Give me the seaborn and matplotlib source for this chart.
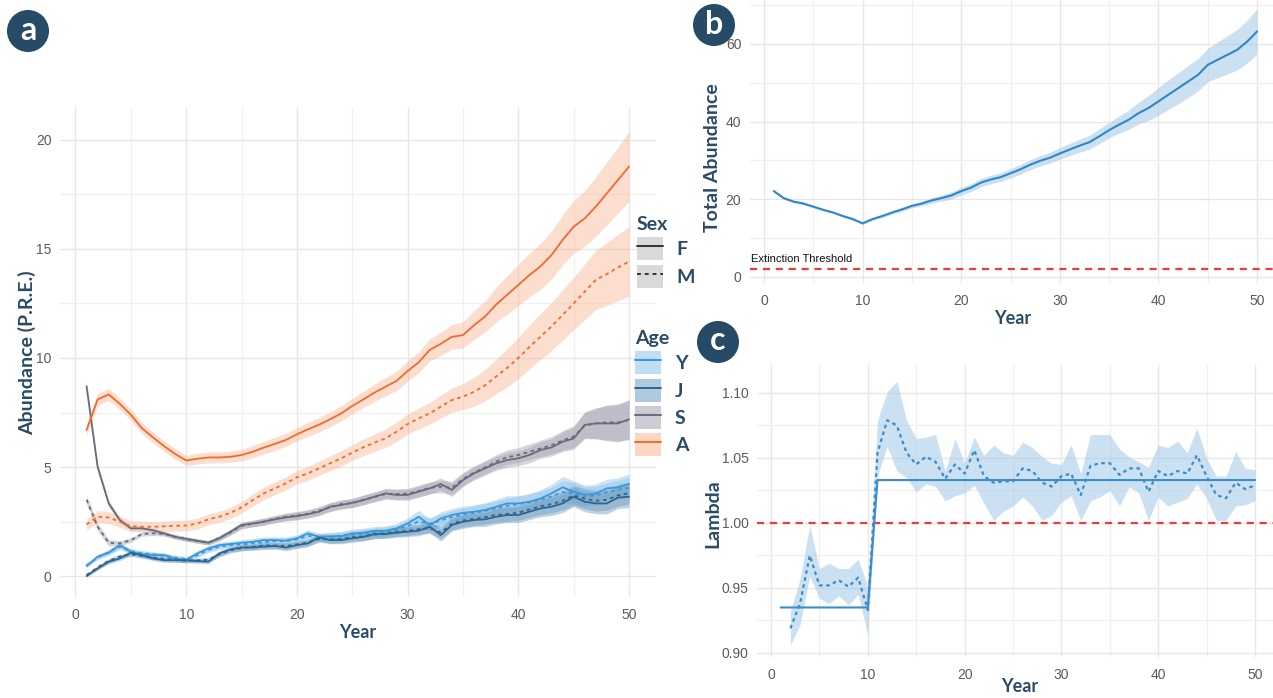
import matplotlib
matplotlib.use("Agg")
import numpy as np
import pandas as pd
import seaborn as sns
import matplotlib.pyplot as plt
from matplotlib.patches import Circle, Patch
from matplotlib.lines import Line2D
from matplotlib.ticker import MultipleLocator

# ---------------- data ----------------
YEARS = list(range(1, 51))
AGES = ["Y", "J", "S", "A"]
SEXES = ["F", "M"]

A_F = [6.7, 8.1, 8.33, 7.9, 7.4, 6.78, 6.36, 5.96, 5.6, 5.3, 5.38, 5.44, 5.44, 5.47, 5.55,
       5.7, 5.89, 6.06, 6.24, 6.5, 6.73, 6.94, 7.19, 7.46, 7.8, 8.1, 8.41, 8.68, 8.95, 9.4,
       9.8, 10.37, 10.65, 10.97, 11.05, 11.5, 11.9, 12.45, 12.9, 13.35, 13.8, 14.2, 14.72,
       15.41, 16.02, 16.4, 16.94, 17.55, 18.16, 18.78]
A_M = [2.37, 2.72, 2.69, 2.49, 2.29, 2.26, 2.26, 2.28, 2.31, 2.32, 2.41, 2.6, 2.72, 2.9, 3.15,
       3.48, 3.79, 4.02, 4.25, 4.53, 4.71, 4.94, 5.17, 5.4, 5.66, 5.9, 6.12, 6.31, 6.62, 6.97,
       7.23, 7.46, 7.77, 8.07, 8.23, 8.45, 8.75, 9.15, 9.55, 10.0, 10.5, 10.98, 11.45, 11.97,
       12.5, 13.04, 13.58, 13.85, 14.15, 14.42]
S_F = [8.7, 5.0, 3.33, 2.57, 2.19, 2.19, 2.1, 1.96, 1.8, 1.7, 1.62, 1.53, 1.73, 2.03, 2.34,
       2.41, 2.49, 2.6, 2.69, 2.75, 2.84, 2.95, 3.18, 3.26, 3.36, 3.48, 3.64, 3.79, 3.72, 3.72,
       3.87, 4.02, 4.22, 3.95, 4.4, 4.71, 4.94, 5.17, 5.32, 5.4, 5.55, 5.78, 5.9, 6.16, 6.31,
       6.93, 7.0, 7.0, 7.0, 7.19]
S_M = [3.5, 2.26, 1.53, 1.5, 1.65, 1.93, 1.96, 1.93, 1.8, 1.7, 1.6, 1.53, 1.75, 2.0, 2.3,
       2.4, 2.5, 2.62, 2.72, 2.78, 2.86, 3.0, 3.15, 3.3, 3.34, 3.5, 3.62, 3.76, 3.76, 3.78,
       3.9, 4.05, 4.1, 4.05, 4.45, 4.75, 4.98, 5.25, 5.45, 5.55, 5.7, 5.85, 6.0, 6.22, 6.4,
       6.9, 7.0, 7.05, 7.05, 7.15]
Y_F = [0.46, 0.89, 1.07, 1.42, 1.11, 1.0, 0.96, 0.96, 0.8, 0.73, 1.04, 1.27, 1.42, 1.47, 1.53,
       1.57, 1.65, 1.65, 1.62, 1.73, 1.96, 1.8, 1.83, 1.83, 1.96, 1.99, 2.08, 2.08, 2.19, 2.41,
       2.72, 2.34, 2.64, 2.8, 2.9, 2.95, 3.03, 3.18, 3.33, 3.33, 3.41, 3.56, 3.79, 4.07, 3.87,
       3.72, 3.79, 4.02, 4.07, 4.22]
Y_M = [0.5, 0.85, 1.1, 1.35, 1.15, 1.05, 1.0, 0.92, 0.85, 0.78, 0.95, 1.2, 1.35, 1.42, 1.45,
       1.5, 1.55, 1.6, 1.6, 1.68, 1.85, 1.78, 1.8, 1.86, 1.9, 1.95, 2.0, 2.05, 2.12, 2.3,
       2.5, 2.4, 2.55, 2.7, 2.82, 2.9, 3.0, 3.1, 3.22, 3.3, 3.38, 3.5, 3.65, 3.85, 3.8,
       3.65, 3.7, 3.85, 3.95, 4.05]
J_F = [0.0, 0.35, 0.66, 0.81, 1.07, 0.96, 0.81, 0.73, 0.73, 0.73, 0.69, 0.66, 1.04, 1.22, 1.31,
       1.31, 1.35, 1.38, 1.31, 1.42, 1.5, 1.77, 1.65, 1.65, 1.73, 1.8, 1.93, 1.93, 1.99, 2.03,
       2.08, 2.26, 1.88, 2.34, 2.49, 2.57, 2.6, 2.72, 2.8, 2.8, 2.95, 3.1, 3.18, 3.33, 3.64,
       3.41, 3.33, 3.33, 3.6, 3.64]
J_M = [0.05, 0.4, 0.7, 0.9, 1.0, 0.92, 0.85, 0.78, 0.75, 0.7, 0.72, 0.75, 1.0, 1.18, 1.28,
       1.34, 1.4, 1.4, 1.38, 1.45, 1.55, 1.7, 1.68, 1.7, 1.78, 1.82, 1.9, 1.95, 2.02, 2.08,
       2.15, 2.2, 2.0, 2.4, 2.55, 2.62, 2.7, 2.8, 2.85, 2.9, 3.05, 3.2, 3.3, 3.45, 3.7,
       3.55, 3.45, 3.5, 3.7, 3.8]

# ribbon half-widths per age class
A_HW = [0.25, 0.28, 0.28, 0.26, 0.25, 0.25, 0.24, 0.24, 0.24, 0.24, 0.25, 0.25, 0.25, 0.26, 0.27,
        0.28, 0.29, 0.3, 0.3, 0.31, 0.32, 0.33, 0.34, 0.35, 0.36, 0.38, 0.4, 0.42, 0.44, 0.46,
        0.48, 0.5, 0.53, 0.56, 0.6, 0.66, 0.72, 0.8, 0.88, 0.95, 1.0, 1.05, 1.1, 1.15, 1.2,
        1.28, 1.36, 1.44, 1.52, 1.6]
S_HW = [0.2, 0.18, 0.15, 0.12, 0.1, 0.1, 0.1, 0.1, 0.1, 0.1, 0.1, 0.1, 0.12, 0.13, 0.14,
        0.15, 0.16, 0.16, 0.17, 0.18, 0.18, 0.19, 0.2, 0.2, 0.21, 0.22, 0.22, 0.23, 0.24, 0.25,
        0.26, 0.27, 0.28, 0.3, 0.3, 0.3, 0.31, 0.32, 0.33, 0.34, 0.36, 0.38, 0.4, 0.45, 0.5,
        0.6, 0.7, 0.8, 0.85, 0.9]
Y_HW = [0.08, 0.1, 0.12, 0.14, 0.12, 0.12, 0.12, 0.12, 0.12, 0.12, 0.12, 0.13, 0.14, 0.14, 0.14,
        0.15, 0.15, 0.15, 0.16, 0.16, 0.17, 0.17, 0.18, 0.18, 0.19, 0.2, 0.2, 0.21, 0.22, 0.25,
        0.3, 0.28, 0.3, 0.3, 0.3, 0.32, 0.33, 0.34, 0.35, 0.36, 0.38, 0.4, 0.42, 0.5, 0.5,
        0.45, 0.42, 0.42, 0.44, 0.45]
J_HW = [0.05, 0.08, 0.1, 0.1, 0.1, 0.1, 0.1, 0.1, 0.1, 0.1, 0.1, 0.1, 0.12, 0.12, 0.13,
        0.13, 0.14, 0.14, 0.15, 0.15, 0.16, 0.16, 0.17, 0.17, 0.18, 0.19, 0.2, 0.2, 0.21, 0.22,
        0.23, 0.25, 0.28, 0.28, 0.3, 0.3, 0.32, 0.33, 0.34, 0.35, 0.36, 0.38, 0.4, 0.42, 0.45,
        0.46, 0.47, 0.48, 0.5, 0.5]

# panel b: total abundance
TOTAL = [22.1, 20.3, 19.4, 18.9, 18.1, 17.3, 16.6, 15.7, 14.9, 13.8, 14.9, 15.7, 16.6, 17.4, 18.3,
         18.9, 19.7, 20.3, 21.0, 22.1, 23.0, 24.3, 25.1, 25.7, 26.7, 27.7, 28.9, 29.9, 30.7, 31.8,
         32.8, 33.8, 34.7, 36.2, 37.8, 39.2, 40.5, 42.2, 43.5, 45.2, 46.9, 48.6, 50.3, 52.0, 54.6,
         55.9, 57.2, 58.5, 60.6, 63.2]
TOTAL_HW = [0.3, 0.3, 0.3, 0.3, 0.3, 0.3, 0.3, 0.3, 0.3, 0.3, 0.35, 0.4, 0.45, 0.5, 0.55,
            0.6, 0.7, 0.8, 0.9, 1.0, 1.0, 1.05, 1.1, 1.15, 1.2, 1.25, 1.3, 1.35, 1.4, 1.5,
            1.6, 1.7, 1.8, 1.9, 2.0, 2.2, 2.5, 2.8, 3.2, 3.6, 3.8, 4.0, 4.1, 4.2, 4.3,
            4.6, 4.9, 5.2, 5.5, 5.8]
EXTINCTION = 2

# panel c: lambda (years 2..50)
LAM_YEARS = list(range(2, 51))
LAM = [0.919, 0.938, 0.975, 0.952, 0.952, 0.956, 0.951, 0.958, 0.933,
       1.054, 1.079, 1.075, 1.054, 1.045, 1.051, 1.047, 1.034, 1.045, 1.038,
       1.056, 1.036, 1.031, 1.032, 1.032, 1.042, 1.040, 1.031, 1.028, 1.036,
       1.038, 1.0215, 1.044, 1.046, 1.046, 1.037, 1.042, 1.042, 1.024, 1.040,
       1.036, 1.040, 1.038, 1.052, 1.036, 1.0215, 1.019, 1.031, 1.026, 1.029]
LAM_HI = [0.932, 0.957, 0.998, 0.965, 0.969, 0.965, 0.965, 0.972, 0.951,
          1.079, 1.101, 1.109, 1.079, 1.065, 1.066, 1.068, 1.040, 1.065, 1.046,
          1.066, 1.052, 1.060, 1.054, 1.052, 1.062, 1.058, 1.051, 1.046, 1.045,
          1.060, 1.038, 1.068, 1.068, 1.068, 1.057, 1.051, 1.047, 1.043, 1.060,
          1.058, 1.063, 1.054, 1.073, 1.050, 1.036, 1.036, 1.055, 1.042, 1.041]
LAM_LO = [0.906, 0.922, 0.959, 0.942, 0.938, 0.944, 0.937, 0.945, 0.914,
          1.036, 1.059, 1.040, 1.035, 1.024, 1.030, 1.028, 1.017, 1.021, 1.023,
          1.029, 1.015, 1.002, 1.009, 1.013, 1.020, 1.013, 1.002, 1.006, 1.016,
          1.021, 1.002, 1.017, 1.020, 1.025, 1.013, 1.028, 1.023, 1.002, 1.020,
          1.013, 1.016, 1.019, 1.030, 1.019, 1.002, 1.002, 1.013, 1.014, 1.017]
PERIOD_LAMBDA = [0.935, 1.033]      # mean lambda, years 1-10 and 11-50
PERIOD_BREAK = 10

# ---------------- style ----------------
NAVY = "#2a4b66"
TICK = "#5a5a5a"
LINE_C = {"Y": "#3a98d8", "J": "#2b6591", "S": "#6a6a7c", "A": "#f26a2e"}
RIB_C = {"Y": "#8cc3ea", "J": "#6e9cc0", "S": "#a3a3b3", "A": "#f9b795"}
RIB_A = {"Y": 0.45, "J": 0.45, "S": 0.45, "A": 0.45}

sns.set_theme(style="whitegrid")
plt.rcParams["font.family"] = ["Lato", "DejaVu Sans"]

W, H = 1273, 698
fig = plt.figure(figsize=(W / 100, H / 100), dpi=100)
fig.patch.set_facecolor("white")


def frac(l, t, r, b):
    return [l / W, 1 - b / H, (r - l) / W, (b - t) / H]


def style_axes(ax, xmaj, ymaj, ymin_loc):
    ax.set_facecolor("white")
    for s in ax.spines.values():
        s.set_visible(False)
    ax.xaxis.set_major_locator(MultipleLocator(xmaj))
    ax.xaxis.set_minor_locator(MultipleLocator(xmaj / 2))
    ax.yaxis.set_major_locator(MultipleLocator(ymaj))
    ax.yaxis.set_minor_locator(MultipleLocator(ymin_loc))
    ax.grid(which="major", color="#e6e6e6", lw=1.0)
    ax.grid(which="minor", color="#f0f0f0", lw=0.9)
    ax.tick_params(which="both", length=0, labelsize=10, labelcolor=TICK)
    ax.tick_params(axis="x", pad=8)
    ax.tick_params(axis="y", pad=6)
    ax.set_xlabel("")
    ax.set_ylabel("")


def tick_font(ax):
    for lab in ax.get_xticklabels() + ax.get_yticklabels():
        lab.set_fontfamily("Liberation Sans")


# ---------------- panel a ----------------
series = {("Y", "F"): Y_F, ("Y", "M"): Y_M, ("J", "F"): J_F, ("J", "M"): J_M,
          ("S", "F"): S_F, ("S", "M"): S_M, ("A", "F"): A_F, ("A", "M"): A_M}
halfw = {"Y": Y_HW, "J": J_HW, "S": S_HW, "A": A_HW}
rows = []
for (age, sex), vals in series.items():
    for yr, v in zip(YEARS, vals):
        rows.append({"Year": yr, "Abundance": v, "Age": age, "Sex": sex})
df = pd.DataFrame(rows)

axA = fig.add_axes(frac(60, 107, 656, 597))
for (age, sex), vals in series.items():
    m = np.array(vals)
    hw = np.array(halfw[age])
    axA.fill_between(YEARS, m - hw, m + hw, color=RIB_C[age], alpha=RIB_A[age], lw=0, zorder=1)
sns.lineplot(data=df, x="Year", y="Abundance", hue="Age", style="Sex",
             hue_order=AGES, style_order=SEXES, palette=LINE_C,
             dashes={"F": "", "M": (2, 2)}, lw=1.3, legend=False, errorbar=None,
             ax=axA, zorder=3)
axA.set_xlim(-1.4, 52.44)
axA.set_ylim(-0.96, 21.51)
style_axes(axA, 10, 5, 2.5)
axA.set_xticks([0, 10, 20, 30, 40, 50])
axA.set_yticks([0, 5, 10, 15, 20])
tick_font(axA)

# legends
leg_kw = dict(loc="upper left", frameon=False, handlelength=1.35, handleheight=1.45,
              handletextpad=0.7, labelspacing=0.22, borderpad=0, borderaxespad=0,
              prop=dict(weight="bold", size=14), alignment="left",
              title_fontproperties=dict(weight="bold", size=14), labelcolor=NAVY)
sex_handles = [(Patch(facecolor="#d9d9d9", edgecolor="none"),
                Line2D([], [], color="#333333", lw=1.4, ls="-")),
               (Patch(facecolor="#d9d9d9", edgecolor="none"),
                Line2D([], [], color="#333333", lw=1.4, dashes=(2, 2)))]
leg1 = fig.legend(sex_handles, SEXES, title="Sex", bbox_to_anchor=(637 / W, 1 - 216 / H), **leg_kw)
leg1.get_title().set_color(NAVY)
age_handles = [(Patch(facecolor=RIB_C[a], alpha=0.55, edgecolor="none"),
                Line2D([], [], color=LINE_C[a], lw=1.4)) for a in AGES]
leg2 = fig.legend(age_handles, AGES, title="Age", bbox_to_anchor=(635 / W, 1 - 330 / H), **leg_kw)
leg2.get_title().set_color(NAVY)

fig.text(27 / W, 1 - 353 / H, "Abundance (P.R.E.)", rotation=90, ha="center", va="center",
         fontsize=14, fontweight="bold", color=NAVY)
fig.text(358 / W, 1 - 632 / H, "Year", ha="center", va="center",
         fontsize=13, fontweight="bold", color=NAVY)

# ---------------- panel b ----------------
axB = fig.add_axes(frac(749.7, 0, 1281.2, 283))
tot = np.array(TOTAL)
thw = np.array(TOTAL_HW)
axB.fill_between(YEARS, tot - thw, tot + thw, color="#a9cde9", alpha=0.6, lw=0, zorder=1)
sns.lineplot(x=YEARS, y=TOTAL, color="#2f86c8", lw=1.5, ax=axB, zorder=3)
axB.axhline(EXTINCTION, color="#f03a3a", lw=1.6, dashes=(3.2, 2.6), zorder=2)
axB.set_xlim(-1.45, 52.45)
axB.set_ylim(-1.55, 71.3)
style_axes(axB, 10, 20, 10)
axB.set_xticks([0, 10, 20, 30, 40, 50])
axB.set_yticks([0, 20, 40, 60])
tick_font(axB)
axB.text(-1.3, EXTINCTION + 1.3, "Extinction Threshold", fontsize=8, color="#111111",
         family="Liberation Sans", ha="left", va="bottom")
fig.text(712 / W, 1 - 158 / H, "Total Abundance", rotation=90, ha="center", va="center",
         fontsize=14, fontweight="bold", color=NAVY)
fig.text(1013 / W, 1 - 318 / H, "Year", ha="center", va="center",
         fontsize=13, fontweight="bold", color=NAVY)

# ---------------- panel c ----------------
axC = fig.add_axes(frac(757, 365, 1278.7, 657))
axC.fill_between(LAM_YEARS, LAM_LO, LAM_HI, color="#a9cde9", alpha=0.6, lw=0, zorder=1)
step_vals = [PERIOD_LAMBDA[0] if y <= PERIOD_BREAK else PERIOD_LAMBDA[1] for y in YEARS]
sns.lineplot(x=YEARS, y=step_vals, color="#3a8ccc", lw=1.5, ax=axC, zorder=3)
sns.lineplot(x=LAM_YEARS, y=LAM, color="#3a8ccc", lw=1.6, ax=axC, zorder=4,
             linestyle=(0, (1.6, 1.6)))
axC.axhline(1.0, color="#f03a3a", lw=1.6, dashes=(3.2, 2.6), zorder=2)
axC.set_xlim(-1.45, 52.45)
axC.set_ylim(0.8969, 1.1215)
style_axes(axC, 10, 0.05, 0.025)
axC.set_xticks([0, 10, 20, 30, 40, 50])
axC.set_yticks([0.90, 0.95, 1.00, 1.05, 1.10])
axC.set_yticklabels(["0.90", "0.95", "1.00", "1.05", "1.10"])
tick_font(axC)
fig.text(713 / W, 1 - 514 / H, "Lambda", rotation=90, ha="center", va="center",
         fontsize=14, fontweight="bold", color=NAVY)
fig.text(1020 / W, 1 - 686 / H, "Year", ha="center", va="center",
         fontsize=13, fontweight="bold", color=NAVY)

# ---------------- panel letters ----------------
ov = fig.add_axes([0, 0, 1, 1], zorder=10)
ov.set_xlim(0, W)
ov.set_ylim(H, 0)
ov.axis("off")
ov.patch.set_alpha(0)
for lx, ly, letter in [(28, 31, "a"), (714, 25, "b"), (718, 342, "c")]:
    ov.add_patch(Circle((lx, ly), 21, color="#274a66", lw=0))
    ov.text(lx, ly - 1, letter, color="white", fontsize=23, fontweight="bold",
            ha="center", va="center")

fig.savefig("out.png", dpi=100, facecolor="white")
